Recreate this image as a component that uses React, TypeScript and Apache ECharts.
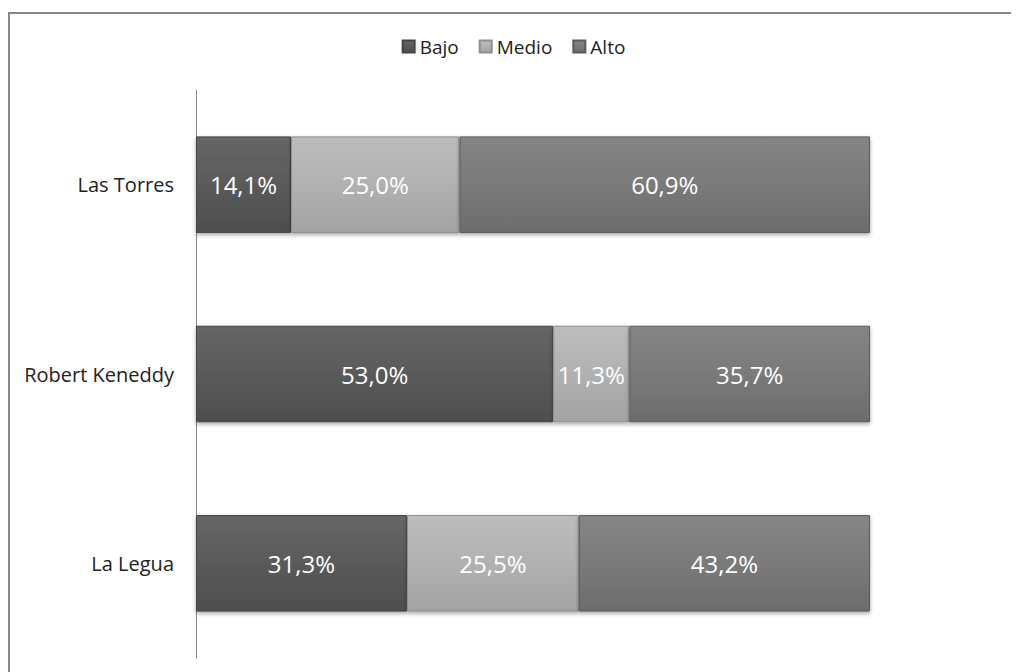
import React, { useEffect, useRef } from "react";
import * as echarts from "echarts";

const categories = ["Las Torres", "Robert Keneddy", "La Legua"];
const seriesNames = ["Bajo", "Medio", "Alto"];
const bajo = [14.1, 53.0, 31.3];
const medio = [25.0, 11.3, 25.5];
const alto = [60.9, 35.7, 43.2];

const palette = [
  { top: "#666666", mid: "#5a5a5a", bot: "#4e4e4e", border: "#454545" },
  { top: "#bdbdbd", mid: "#b1b1b1", bot: "#a3a3a3", border: "#8f8f8f" },
  { top: "#858585", mid: "#7a7a7a", bot: "#6c6c6c", border: "#5a5a5a" },
];

function grad(p: any) {
  return new echarts.graphic.LinearGradient(0, 0, 0, 1, [
    { offset: 0, color: p.top },
    { offset: 0.5, color: p.mid },
    { offset: 1, color: p.bot },
  ]);
}

export default function App() {
  const ref = useRef<HTMLDivElement>(null);
  useEffect(() => {
    const chart = echarts.init(ref.current!, null, { renderer: "svg" });
    const data = [bajo, medio, alto];
    chart.setOption({
      animation: false,
      backgroundColor: "#ffffff",
      textStyle: { fontFamily: "Open Sans" },
      graphic: [
        { type: "line", shape: { x1: 0, y1: 5, x2: 1011, y2: 5 }, style: { stroke: "#888888", lineWidth: 2 } },
        { type: "line", shape: { x1: 1, y1: 5, x2: 1, y2: 664 }, style: { stroke: "#888888", lineWidth: 2 } },
      ],
      legend: {
        top: 24,
        left: "center",
        itemWidth: 12,
        itemHeight: 12,
        itemGap: 20,
        icon: "rect",
        textStyle: { fontSize: 19, color: "#222", fontFamily: "Open Sans" },
        data: seriesNames,
      },
      grid: { left: 188, top: 82, width: 674, height: 568 },
      xAxis: { type: "value", min: 0, max: 100, show: false },
      yAxis: {
        type: "category",
        data: categories,
        inverse: true,
        axisLine: { lineStyle: { color: "#888888", width: 1 } },
        axisTick: { show: false },
        axisLabel: { fontSize: 20, color: "#222", margin: 22, fontFamily: "Open Sans" },
      },
      series: seriesNames.map((name, i) => ({
        name,
        type: "bar",
        stack: "total",
        barWidth: "51%",
        data: data[i],
        itemStyle: {
          color: grad(palette[i]),
          borderColor: palette[i].border,
          borderWidth: 1,
          shadowColor: "rgba(0,0,0,0.35)",
          shadowBlur: 4,
          shadowOffsetY: 2,
        },
        label: {
          show: true,
          position: "inside",
          color: "#ffffff",
          fontSize: 24,
          fontFamily: "Open Sans",
          formatter: (p: any) => p.value.toFixed(1).replace(".", ",") + "%",
        },
      })),
    });
    return () => chart.dispose();
  }, []);
  return <div ref={ref} style={{ width: 1011, height: 664 }} />;
}
